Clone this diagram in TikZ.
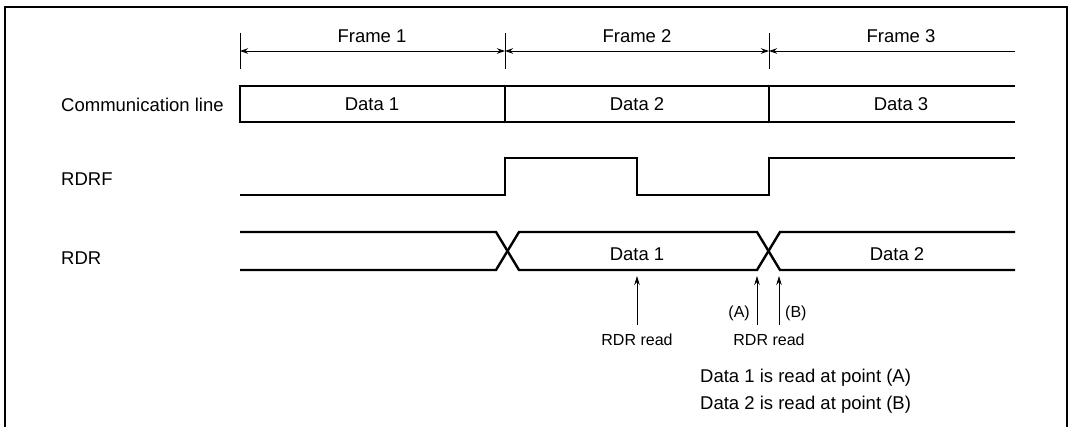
\documentclass[tikz,border=0pt]{standalone}
\usepackage{fontspec}
\setmainfont{Liberation Sans}
\usetikzlibrary{arrows.meta}
\begin{document}
\begin{tikzpicture}[x=1pt,y=-1pt,
  sig/.style={line width=2.4pt},
  thinline/.style={line width=0.9pt},
  lbl/.style={font=\fontsize{18.5}{22}\selectfont, inner sep=0pt, text height=13.2pt, text depth=0pt},
  small/.style={font=\fontsize{16}{19}\selectfont, inner sep=0pt, text height=11.5pt, text depth=0pt},
  uparrow/.style={thinline, -{Stealth[length=9pt,width=5.5pt]}},
  dimarrow/.style={thinline, {Stealth[length=8pt,width=5.5pt]}-{Stealth[length=8pt,width=5.5pt]}},
  dimleft/.style={thinline, {Stealth[length=8pt,width=5.5pt]}-}]
\useasboundingbox (0,0) rectangle (1073,426);
% frame border
\draw[line width=2.5pt] (5,440) -- (5,7) -- (1067,7) -- (1067,440);

% frame dimension ticks
\coordinate (k1a) at (240,33); \coordinate (k1b) at (240,69);
\coordinate (k2a) at (505,33); \coordinate (k2b) at (505,69);
\coordinate (k3a) at (769,33); \coordinate (k3b) at (769,69);
\draw[thinline] (k1a) -- (k1b);
\draw[thinline] (k2a) -- (k2b);
\draw[thinline] (k3a) -- (k3b);
\coordinate (d1) at (240,51); \coordinate (d2) at (505,51);
\coordinate (d3) at (769,51); \coordinate (d4) at (1015,51);
\draw[dimarrow] (d1) -- (d2);
\draw[dimarrow] (d2) -- (d3);
\draw[dimleft] (d3) -- (d4);
\node[lbl] (f1) at (372,36) {Frame 1};
\node[lbl] (f2) at (637,36) {Frame 2};
\node[lbl] (f3) at (901,36) {Frame 3};

% communication line
\node[lbl, anchor=west] (lc) at (61,105) {Communication line};
\draw[sig] (1015,86) -- (240,86) -- (240,122) -- (1015,122);
\draw[sig] (505,86) -- (505,122);
\draw[sig] (769,86) -- (769,122);
\node[lbl] (c1) at (372,104) {Data 1};
\node[lbl] (c2) at (637,104) {Data 2};
\node[lbl] (c3) at (901,104) {Data 3};

% RDRF
\node[lbl, anchor=west] (lf) at (61,179) {RDRF};
\draw[sig] (240,195) -- (505,195) -- (505,158) -- (637,158) -- (637,195)
  -- (769,195) -- (769,158) -- (1015,158);

% RDR
\node[lbl, anchor=west] (lr) at (61,258) {RDR};
\draw[sig] (240,232) -- (496,232) -- (519,270) -- (757,270) -- (780,232) -- (1015,232);
\draw[sig] (240,270) -- (496,270) -- (519,232) -- (757,232) -- (780,270) -- (1015,270);
\node[lbl] (r1) at (637,254) {Data 1};
\node[lbl] (r2) at (897,254) {Data 2};

% read arrows
\coordinate (ra0) at (637,325); \coordinate (ra1) at (637,276);
\coordinate (aa0) at (757,325); \coordinate (aa1) at (757,276);
\coordinate (ba0) at (779,325); \coordinate (ba1) at (779,276);
\draw[uparrow] (ra0) -- (ra1);
\draw[uparrow] (aa0) -- (aa1);
\draw[uparrow] (ba0) -- (ba1);
\node[small, anchor=east] (la) at (750,312) {(A)};
\node[small, anchor=west] (lb) at (785,312) {(B)};
\node[small] (rr1) at (637,340) {RDR read};
\node[small] (rr2) at (769,340) {RDR read};
\node[lbl, anchor=west] (n1) at (700,376) {Data 1 is read at point (A)};
\node[lbl, anchor=west] (n2) at (700,403) {Data 2 is read at point (B)};
\end{tikzpicture}
\end{document}
